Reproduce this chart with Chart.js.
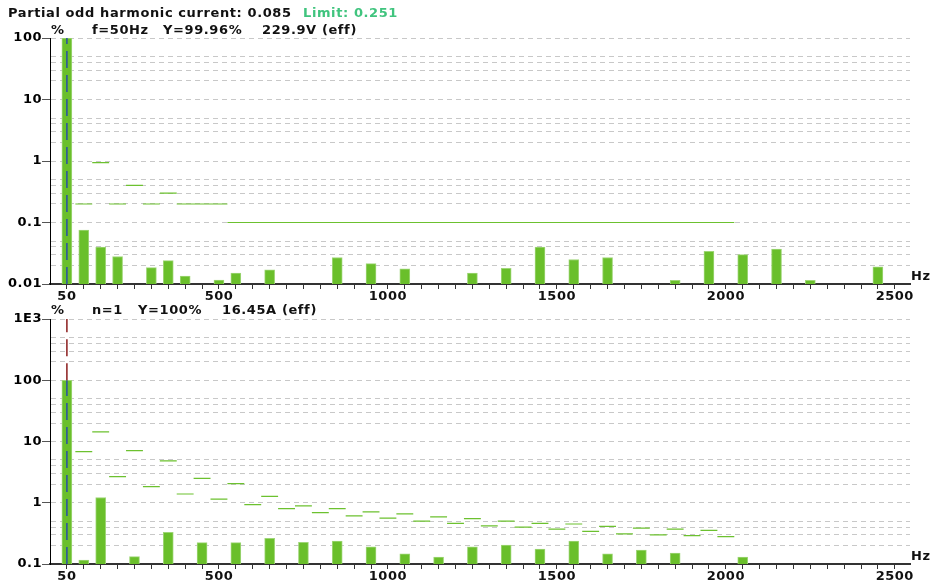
<!DOCTYPE html>
<html>
<head>
<meta charset="utf-8">
<title>Harmonics</title>
<script src="https://cdn.jsdelivr.net/npm/chart.js@4.4.1/dist/chart.umd.min.js"></script>
<style>
  html, body { margin: 0; padding: 0; background: #fff; }
  body { position: relative; width: 935px; height: 585px; overflow: hidden;
         font: bold 13px "DejaVu Sans", Verdana, sans-serif; color: #111; }
  .txt { position: absolute; white-space: pre; line-height: 16px; letter-spacing: 0.6px; }
  .lim { color: #40c47e; }
  canvas { position: absolute; left: 0; }
</style>
</head>
<body>
<canvas id="voltage-chart" width="935" height="302" style="top:0"></canvas>
<canvas id="current-chart" width="935" height="283" style="top:302px"></canvas>

<div class="txt" style="left:8px;top:5px">Partial odd harmonic current: 0.085</div>
<div class="txt lim" style="left:303px;top:5px">Limit: 0.251</div>

<div class="txt" style="left:51px;top:22px">%</div>
<div class="txt" style="left:92px;top:22px">f=50Hz</div>
<div class="txt" style="left:163px;top:22px">Y=99.96%</div>
<div class="txt" style="left:262px;top:22px">229.9V (eff)</div>

<div class="txt" style="left:51px;top:302px">%</div>
<div class="txt" style="left:92px;top:302px">n=1</div>
<div class="txt" style="left:138px;top:302px">Y=100%</div>
<div class="txt" style="left:222px;top:302px">16.45A (eff)</div>

<script>
const fundamental = 50; // Hz

const orders = [
   1,  2,  3,  4,  5,  6,  7,  8,  9, 10,
  11, 12, 13, 14, 15, 16, 17, 18, 19, 20,
  21, 22, 23, 24, 25, 26, 27, 28, 29, 30,
  31, 32, 33, 34, 35, 36, 37, 38, 39, 40,
  41, 42, 43, 44, 45, 46, 47, 48, 49, 50
];

// voltage harmonics in % of fundamental (null = below display range)
const voltagePct = [
  99.96, 0.075, 0.040, 0.028, null, 0.0185, 0.024, 0.0135, null, 0.0116,
  0.015, null, 0.017, null, null, null, 0.027, null, 0.0215, null,
  0.0176, null, null, null, 0.015, null, 0.018, null, 0.040, null,
  0.025, null, 0.027, null, null, null, 0.0115, null, 0.034, null,
  0.030, null, 0.037, null, 0.0115, null, null, null, 0.019, null
];

const voltageLimit = [
  null, 0.2, 0.94, 0.2, 0.4, 0.2, 0.3, 0.2, 0.2, 0.2,
  0.1, 0.1, 0.1, 0.1, 0.1, 0.1, 0.1, 0.1, 0.1, 0.1,
  0.1, 0.1, 0.1, 0.1, 0.1, 0.1, 0.1, 0.1, 0.1, 0.1,
  0.1, 0.1, 0.1, 0.1, 0.1, 0.1, 0.1, 0.1, 0.1, 0.1,
  null, null, null, null, null, null, null, null, null, null
];

// current harmonics in % of fundamental
const currentPct = [
  100, 0.116, 1.22, null, 0.132, null, 0.328, null, 0.223, null,
  0.223, null, 0.262, null, 0.225, null, 0.237, null, 0.191, null,
  0.146, null, 0.130, null, 0.191, null, 0.204, null, 0.176, null,
  0.237, null, 0.146, null, 0.169, null, 0.151, null, null, null,
  0.130, null, null, null, null, null, null, null, null, null
];

const currentLimit = [
  null, 6.85, 14.4, 2.67, 7.1, 1.83, 4.82, 1.39, 2.5, 1.15,
  2.05, 0.93, 1.27, 0.80, 0.89, 0.69, 0.80, 0.61, 0.71, 0.56,
  0.66, 0.50, 0.59, 0.46, 0.55, 0.42, 0.50, 0.40, 0.46, 0.37,
  0.45, 0.34, 0.41, 0.31, 0.385, 0.30, 0.37, 0.29, 0.355, 0.28,
  null, null, null, null, null, null, null, null, null, null
];

const xTickLabels = [50, 500, 1000, 1500, 2000, 2500];
const yTicksVoltage = [0.01, 0.1, 1, 10, 100];
const yLabelsVoltage = ['0.01', '0.1', '1', '10', '100'];
const yTicksCurrent = [0.1, 1, 10, 100, 1000];
const yLabelsCurrent = ['0.1', '1', '10', '100', '1E3'];

const font = { family: '"DejaVu Sans", Verdana, sans-serif', size: 13, weight: 'bold' };

// minor x ticks on every harmonic
const xMinor = [];
for (let f = fundamental; f <= 2500; f += fundamental) xMinor.push(f);

function barPoints(values) {
  return orders.map((n, i) => ({ x: n * fundamental, y: values[i] })).filter(p => p.y !== null);
}

// one short horizontal segment per harmonic
function limitPoints(limits) {
  const pts = [];
  orders.forEach((n, i) => {
    if (limits[i] === null) return;
    const f = n * fundamental;
    pts.push({ x: f - fundamental / 2, y: limits[i] });
    pts.push({ x: f + fundamental / 2, y: limits[i] });
    pts.push({ x: f + fundamental / 2, y: null });
  });
  return pts;
}

function gridValues(majors) {
  const vals = [];
  for (let i = 0; i < majors.length - 1; i++) {
    [1, 2, 3, 4, 5].forEach(m => vals.push(majors[i] * m));
  }
  vals.push(majors[majors.length - 1]);
  return vals;
}

const unitLabel = {
  id: 'unitLabel',
  beforeUpdate(chart) {
    chart.ctx.letterSpacing = '0.5px';
  },
  afterDraw(chart) {
    const { ctx, chartArea } = chart;
    ctx.save();
    ctx.font = 'bold 13px "DejaVu Sans", Verdana, sans-serif';
    ctx.fillStyle = '#111';
    ctx.textBaseline = 'middle';
    ctx.fillText('Hz', chartArea.right + 1, chartArea.bottom - 7);
    ctx.restore();
  }
};

function harmonicChart(id, values, limits, majors, labels, padTop, axisHeight) {
  const base = majors[0];
  const top = majors[majors.length - 1];
  const fund = values[0];
  const datasets = [
    {
      type: 'line',
      data: [{ x: fundamental, y: base }, { x: fundamental, y: fund }],
      borderColor: '#2b50a3', borderWidth: 1.5, borderDash: [17, 7],
      pointRadius: 0, order: 0
    },
    {
      type: 'line',
      data: limitPoints(limits),
      borderColor: '#6cc12f', borderWidth: 1.2,
      pointRadius: 0, spanGaps: false, order: 1
    },
    {
      data: barPoints(values),
      backgroundColor: '#6abf2b', borderColor: '#9fd677', borderWidth: 1,
      barThickness: 10, order: 2
    }
  ];
  if (fund < top) {
    datasets.unshift({
      type: 'line',
      data: [{ x: fundamental, y: fund }, { x: fundamental, y: top }],
      borderColor: '#8b1d1d', borderWidth: 1.5, borderDash: [17, 7],
      pointRadius: 0, order: 0
    });
  }

  return new Chart(document.getElementById(id), {
    type: 'bar',
    data: { datasets },
    options: {
      responsive: false,
      animation: false,
      events: [],
      layout: { padding: { top: padTop, right: 25, left: 0, bottom: 0 } },
      plugins: { legend: { display: false }, tooltip: { enabled: false } },
      scales: {
        x: {
          type: 'linear', min: 0, max: 2545, offset: false,
          afterBuildTicks: s => { s.ticks = xMinor.map(v => ({ value: v })); },
          afterFit: s => { s.height = axisHeight; },
          grid: { offset: false, drawOnChartArea: false, tickLength: 5, tickColor: '#333', color: '#333' },
          border: { color: '#333', width: 2 },
          ticks: {
            autoSkip: false, maxRotation: 0, padding: 0, color: '#111', font,
            callback: v => xTickLabels.includes(v) ? String(v) : ''
          }
        },
        y: {
          type: 'logarithmic', min: base, max: top,
          afterBuildTicks: s => { s.ticks = gridValues(majors).map(v => ({ value: v })); },
          afterFit: s => { s.width = 50; },
          grid: {
            color: '#c8c8c8', lineWidth: 1, tickLength: 8, tickBorderDash: [],
            tickColor: c => majors.includes(c.tick && c.tick.value) ? '#555' : 'rgba(0,0,0,0)'
          },
          border: { color: '#000', width: 1, dash: [5, 4] },
          ticks: {
            autoSkip: false, padding: 0, color: '#000', font,
            callback: v => { const i = majors.indexOf(v); return i < 0 ? '' : labels[i]; }
          }
        }
      }
    },
    plugins: [unitLabel]
  });
}

harmonicChart('voltage-chart', voltagePct, voltageLimit, yTicksVoltage, yLabelsVoltage, 38, 18);
harmonicChart('current-chart', currentPct, currentLimit, yTicksCurrent, yLabelsCurrent, 17, 21);
</script>
</body>
</html>
